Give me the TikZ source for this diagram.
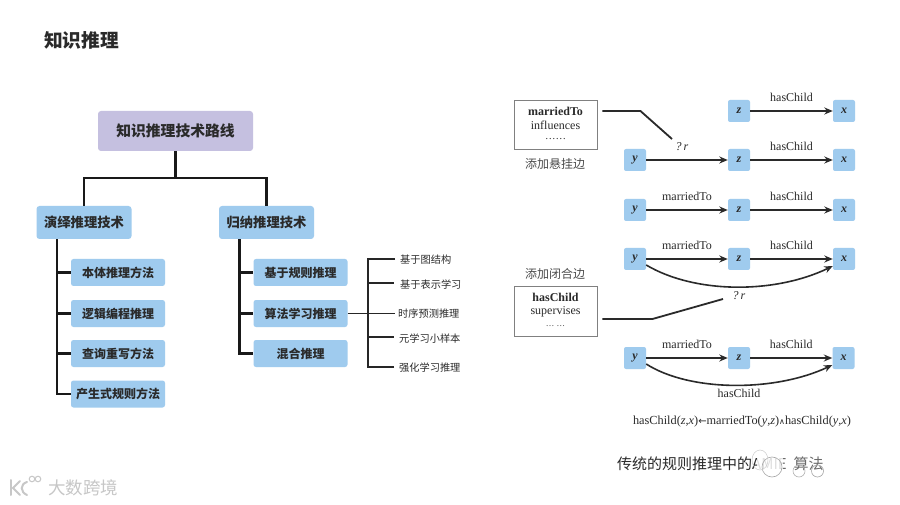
\documentclass[tikz,border=0pt]{standalone}
\usepackage{fontspec}
\setmainfont{Liberation Serif}
\newfontfamily\cjk{Noto Sans CJK SC}
\newfontfamily\symf{DejaVu Sans}
\usetikzlibrary{arrows.meta,calc}
\definecolor{boxblue}{HTML}{9FCBEE}
\definecolor{boxpurple}{HTML}{C5C0E0}
\definecolor{ink}{HTML}{2A2A2A}
\tikzset{
  x=1pt,y=-1pt,
  rootbox/.style={fill=boxpurple,rounded corners=3pt,minimum width=155pt,minimum height=40pt,inner sep=0pt,text=ink,font=\cjk\bfseries\fontsize{14.8}{15}\selectfont},
  mainbox/.style={fill=boxblue,rounded corners=3pt,minimum width=95pt,minimum height=33pt,inner sep=0pt,text=ink,font=\cjk\bfseries\fontsize{13.3}{14}\selectfont},
  subbox/.style={fill=boxblue,rounded corners=2.5pt,minimum width=94pt,minimum height=27pt,inner sep=0pt,text=ink,font=\cjk\bfseries\fontsize{12}{12}\selectfont},
  leaf/.style={anchor=west,inner sep=0pt,text=ink,font=\cjk\fontsize{10.2}{10}\selectfont},
  var/.style={fill=boxblue,rounded corners=2pt,minimum size=22pt,inner sep=0pt,text=ink,font=\itshape\bfseries\fontsize{12}{12}\selectfont},
  lab/.style={inner sep=0pt,text=ink,font=\fontsize{12}{12}\selectfont},
  rel/.style={draw=ink,line width=1.6pt,-{Stealth[length=8.5pt,width=7pt]}},
  tree/.style={draw=black!90,line width=2.2pt},
  thin tree/.style={draw=black!85,line width=1.2pt},
  pick/.style={draw=ink,line width=1.8pt},
  listbox/.style={draw=black!50,line width=.9pt,fill=white,minimum width=83pt,inner sep=0pt},
  captext/.style={inner sep=0pt,text=black!70,font=\cjk\fontsize{12}{13}\selectfont},
}
\begin{document}
\begin{tikzpicture}
\useasboundingbox (0,0) rectangle (900,505);
\fill[white] (0,0) rectangle (900,505);

\node[anchor=west,inner sep=0pt,font=\cjk\bfseries\fontsize{18.7}{19}\selectfont,text=ink] (title) at (44,40) {知识推理};

% left tree
\node[rootbox] (root) at (175.5,131) {知识推理技术路线};
\node[mainbox] (ded) at (84,222.5) {演绎推理技术};
\node[mainbox] (ind) at (266.5,222.5) {归纳推理技术};
\node[subbox] (a1) at (118,272.5) {本体推理方法};
\node[subbox] (a2) at (118,313.5) {逻辑编程推理};
\node[subbox] (a3) at (118,353.5) {查询重写方法};
\node[subbox] (a4) at (118,394) {产生式规则方法};
\node[subbox] (b1) at (300.5,272.5) {基于规则推理};
\node[subbox] (b2) at (300.5,313.5) {算法学习推理};
\node[subbox] (b3) at (300.5,353.5) {混合推理};

\coordinate (j) at ($(root.south)+(0,27)$);
\draw[tree] (root.south) -- (j);
\draw[tree] (ded.north) |- (j) -| (ind.north);
\coordinate (ta) at ($(ded.south)+(-27,0)$);
\coordinate (tb) at ($(ind.south)+(-27,0)$);
\draw[tree] (ta) |- (a4.west);
\draw[tree] (ta |- a1.west) -- (a1.west);
\draw[tree] (ta |- a2.west) -- (a2.west);
\draw[tree] (ta |- a3.west) -- (a3.west);
\draw[tree] (tb) |- (b3.west);
\draw[tree] (tb |- b1.west) -- (b1.west);
\draw[tree] (tb |- b2.west) -- (b2.west);

% leaves
\node[leaf] (c1) at (400,260) {基于图结构};
\node[leaf] (c2) at (400,285) {基于表示学习};
\node[leaf] (c3) at (398,314) {时序预测推理};
\node[leaf] (c4) at (399,339) {元学习小样本};
\node[leaf] (c5) at (399,368) {强化学习推理};
\coordinate (s) at (368,313.5);
\coordinate (stop) at (368,259);
\coordinate (sbot) at (368,367);
\coordinate (s2) at (368,283);
\coordinate (s4) at (368,337);
\draw[thin tree,line width=1.7pt] (b2.east) -- (s);
\draw[thin tree] ([xshift=-5pt]c1.west |- stop) -| (s);
\draw[thin tree] ([xshift=-5pt]c5.west |- sbot) -| (s);
\draw[thin tree,line width=1.7pt] (s) -- ([xshift=-3pt]c3.west |- s);
\draw[thin tree] (s2) -- ([xshift=-6pt]c2.west |- s2);
\draw[thin tree] (s4) -- ([xshift=-5pt]c4.west |- s4);

% right: list boxes
\node[listbox,minimum height=49pt] (l1) at (555.5,124.5) {};
\node[lab,font=\bfseries\fontsize{12}{12}\selectfont] (l1a) at (555.5,111.5) {marriedTo};
\node[lab] (l1b) at (555.5,125.5) {influences};
\node[lab,font=\fontsize{10.5}{10}\selectfont] (l1c) at (555.5,139) {……};
\node[captext] (cap1) at (555,164) {添加悬挂边};
\node[listbox,minimum height=50pt] (l2) at (555.5,311) {};
\node[lab,font=\bfseries\fontsize{12}{12}\selectfont] (l2a) at (555.5,297.5) {hasChild};
\node[lab] (l2b) at (555.5,312) {supervises};
\node[lab,font=\fontsize{8.5}{8}\selectfont] (l2c) at (555.5,326) {… …};
\node[captext] (cap2) at (555,274) {添加闭合边};

% rows
\node[var] (z1) at (739,111) {z};
\node[var] (x1) at (844,111) {x};
\node[var] (y2) at (635,160) {y};
\node[var] (z2) at (739,160) {z};
\node[var] (x2) at (844,160) {x};
\node[var] (y3) at (635,210) {y};
\node[var] (z3) at (739,210) {z};
\node[var] (x3) at (844,210) {x};
\node[var] (y4) at (635,259) {y};
\node[var] (z4) at (739,259) {z};
\node[var] (x4) at (844,259) {x};
\node[var] (y5) at (635,358) {y};
\node[var] (z5) at (739,358) {z};
\node[var] (x5) at (843.5,358) {x};

\draw[rel] (z1) -- (x1) node[lab,midway,yshift=14pt] (h1) {hasChild};
\draw[rel] (y2) -- (z2);
\draw[rel] (z2) -- (x2) node[lab,midway,yshift=14pt] (h2) {hasChild};
\draw[rel] (y3) -- (z3) node[lab,midway,yshift=14pt] (m3) {marriedTo};
\draw[rel] (z3) -- (x3) node[lab,midway,yshift=14pt] (h3) {hasChild};
\draw[rel] (y4) -- (z4) node[lab,midway,yshift=14pt] (m4) {marriedTo};
\draw[rel] (z4) -- (x4) node[lab,midway,yshift=14pt] (h4) {hasChild};
\draw[rel] (y5) -- (z5) node[lab,midway,yshift=14pt] (m5) {marriedTo};
\draw[rel] (z5) -- (x5) node[lab,midway,yshift=14pt] (h5) {hasChild};

\draw[rel] ([yshift=-6pt]y4.east) .. controls (695,294) and (775,294) .. ([yshift=-7pt]x4.west);
\draw[rel] ([yshift=-6pt]y5.east) .. controls (690,392) and (775,392) .. ([yshift=-7pt]x5.west);

\node[lab,font=\itshape\fontsize{12}{12}\selectfont] (r1) at (682,147) {?\,r};
\node[lab,font=\itshape\fontsize{12}{12}\selectfont] (r2) at (739,296) {?\,r};
\coordinate (e1) at (672,139);
\coordinate (e2) at (723,299);
\draw[pick] ([xshift=5pt,yshift=13.5pt]l1.east) -- ++(38,0) -- (e1);
\draw[pick] ([xshift=5pt,yshift=-8pt]l2.east) -- ++(50,0) -- (e2);

\node[lab] (hb) at (739,393) {hasChild};
\node[lab,font=\fontsize{12.3}{12}\selectfont] (rule) at (742,422) {hasChild(\textit{z},\textit{x}){\symf\fontsize{10}{10}\selectfont ←}marriedTo(\textit{y},\textit{z}){\symf\fontsize{8}{8}\selectfont ∧}hasChild(\textit{y},\textit{x})};

\node[anchor=west,inner sep=0pt,text=ink,font=\cjk\fontsize{15}{15}\selectfont] (capt) at (617,464) {传统的规则推理中的AMIE\hspace{7pt}算法};

% watermark over caption
\fill[white,opacity=.85] (757,449) rectangle (783,481);
\fill[white,opacity=.3] (783,449) rectangle (834,481);
\draw[black!35,line width=.6pt] (772,467) ellipse (10 and 10);
\draw[black!20,line width=.5pt] (760,460) ellipse (8 and 10);
\draw[black!35,line width=.6pt] (817.5,471) circle (6);
\draw[black!30,line width=.6pt] (799,471) circle (6);

% watermark bottom left
\begin{scope}[draw=black!22,line width=2pt,line cap=round]
\draw (11,480) -- (11,495);
\draw (20,481) -- (13,488) -- (20,495);
\draw (27,482) .. controls (20,484) and (20,492) .. (27,495);
\draw[line width=1pt] (32,479) circle (2.8);
\draw[line width=1pt] (38,479) circle (2.8);
\end{scope}
\node[anchor=west,inner sep=0pt,text=black!22,font=\cjk\fontsize{17.5}{18}\selectfont] (wm) at (48,488) {大数跨境};
\end{tikzpicture}
\end{document}
